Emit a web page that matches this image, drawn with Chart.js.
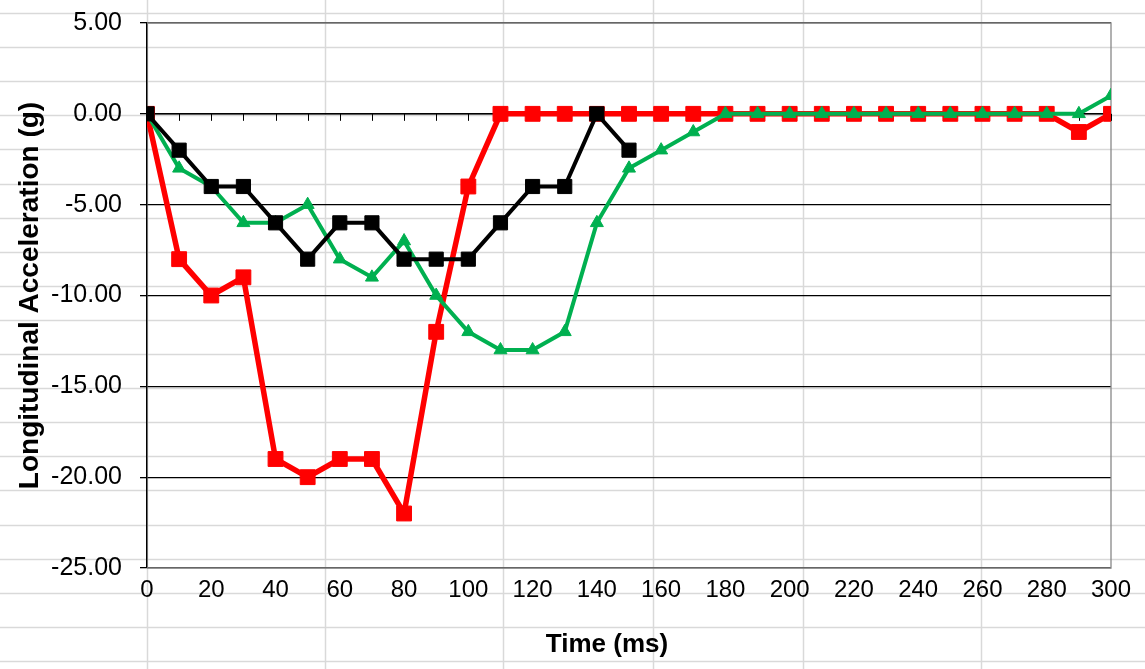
<!DOCTYPE html>
<html>
<head>
<meta charset="utf-8">
<script src="https://cdn.jsdelivr.net/npm/chart.js@4/dist/chart.umd.min.js"></script>
<style>
  html, body { margin: 0; padding: 0; background: #fff; }
  #wrap { width: 1145px; height: 669px; }
</style>
</head>
<body>
<div id="wrap"><canvas id="accel-chart" width="1145" height="669"></canvas></div>
<script>
// time in ms
const times = [0, 10, 20, 30, 40, 50, 60, 70, 80, 90, 100, 110, 120, 130, 140, 150, 160, 170, 180, 190, 200, 210, 220, 230, 240, 250, 260, 270, 280, 290, 300];
// longitudinal acceleration (g)
const redSeries = [0, -8, -10, -9, -19, -20, -19, -19, -22, -12, -4, 0, 0, 0, 0, 0, 0, 0, 0, 0, 0, 0, 0, 0, 0, 0, 0, 0, 0, -1, 0];
const greenSeries = [0, -3, -4, -6, -6, -5, -8, -9, -7, -10, -12, -13, -13, -12, -6, -3, -2, -1, 0, 0, 0, 0, 0, 0, 0, 0, 0, 0, 0, 0, 1];
const blackSeries = [0, -2, -4, -4, -6, -8, -6, -6, -8, -8, -8, -6, -4, -4, 0, -2];
const yTicks = [5, 0, -5, -10, -15, -20, -25];

const toPoints = (vals) => vals.map((v, i) => ({ x: times[i], y: v }));
const FONT = "'Liberation Sans', Arial, sans-serif";

// spreadsheet cell lines behind the chart
const sheetColumns = [147, 325, 503, 653, 803, 981];
const sheetGrid = {
  id: "sheetGrid",
  beforeDraw(chart) {
    const ctx = chart.ctx;
    ctx.save();
    ctx.strokeStyle = "#d9d9d9";
    ctx.lineWidth = 1.5;
    for (let y = 13; y < chart.height; y += 34.1) {
      ctx.beginPath();
      ctx.moveTo(0, Math.round(y) + 0.5);
      ctx.lineTo(chart.width, Math.round(y) + 0.5);
      ctx.stroke();
    }
    sheetColumns.forEach((x) => {
      ctx.beginPath();
      ctx.moveTo(x + 0.5, 0);
      ctx.lineTo(x + 0.5, chart.height);
      ctx.stroke();
    });
    ctx.restore();
  },
  beforeDatasetsDraw(chart) {
    const ctx = chart.ctx;
    const { left, right, top, bottom } = chart.chartArea;
    const xs = chart.scales.x;
    const y0 = chart.scales.y.getPixelForValue(0);
    ctx.save();
    // plot border
    ctx.strokeStyle = "#888";
    ctx.lineWidth = 1.3;
    ctx.beginPath();
    ctx.moveTo(left, top);
    ctx.lineTo(right, top);
    ctx.lineTo(right, bottom);
    ctx.lineTo(left, bottom);
    ctx.stroke();
    // horizontal axis crossing at 0 with minor ticks
    ctx.strokeStyle = "#000";
    ctx.lineWidth = 1.3;
    ctx.beginPath();
    ctx.moveTo(left, y0);
    ctx.lineTo(right, y0);
    ctx.stroke();
    ctx.lineWidth = 1;
    for (let t = 0; t <= 300; t += 10) {
      const px = Math.round(xs.getPixelForValue(t)) + 0.5;
      ctx.beginPath();
      ctx.moveTo(px, y0);
      ctx.lineTo(px, y0 + 7);
      ctx.stroke();
    }
    ctx.restore();
  },
  afterDraw(chart) {
    const ctx = chart.ctx;
    ctx.save();
    ctx.fillStyle = "#000";
    ctx.font = "bold 26px " + FONT;
    ctx.textAlign = "center";
    ctx.textBaseline = "middle";
    ctx.fillText("Time (ms)", 607, 645);
    ctx.restore();
  },
};

const ctx = document.getElementById("accel-chart").getContext("2d");
window._chart = new Chart(ctx, {
  type: "line",
  data: {
    datasets: [
      {
        label: "Red",
        data: toPoints(redSeries),
        borderColor: "#ff0000",
        backgroundColor: "#ff0000",
        borderWidth: 5.5,
        pointStyle: "rect",
        pointRadius: 10.5,
        pointBorderWidth: 1,
        order: 2,
      },
      {
        label: "Green",
        data: toPoints(greenSeries),
        borderColor: "#00b050",
        backgroundColor: "#00b050",
        borderWidth: 4,
        pointStyle: "triangle",
        pointRadius: 7.5,
        pointBorderWidth: 1,
        order: 1,
      },
      {
        label: "Black",
        data: toPoints(blackSeries),
        borderColor: "#000000",
        backgroundColor: "#000000",
        borderWidth: 4,
        pointStyle: "rect",
        pointRadius: 10,
        pointBorderWidth: 1,
        order: 0,
      },
    ],
  },
  options: {
    responsive: false,
    animation: false,
    layout: { padding: { top: 23, right: 34, left: 0, bottom: 0 } },
    plugins: {
      legend: { display: false },
      tooltip: { enabled: false },
    },
    scales: {
      x: {
        type: "linear",
        min: 0,
        max: 300,
        grid: { display: false, drawTicks: false },
        border: { display: false },
        ticks: {
          stepSize: 20,
          padding: 8,
          color: "#000",
          maxRotation: 0,
          font: { family: FONT, size: 24 },
        },
        afterFit: (scale) => {
          scale.height = 101;
          scale.paddingLeft = 0;
          scale.paddingRight = 0;
        },
      },
      y: {
        min: -25,
        max: 5,
        afterBuildTicks: (scale) => { scale.ticks = yTicks.map((v) => ({ value: v })); },
        grid: { color: "#000", lineWidth: 1.3, tickLength: 7, tickColor: "#000" },
        border: { color: "#000", width: 1.5 },
        ticks: {
          padding: 18,
          color: "#000",
          font: { family: FONT, size: 25 },
          callback: (v) => Number(v).toFixed(2),
        },
        title: {
          display: true,
          text: "Longitudinal Acceleration (g)",
          color: "#000",
          padding: { top: 13, bottom: 0 },
          font: { family: FONT, size: 28, weight: "bold" },
        },
        afterFit: (scale) => {
          scale.width = 147;
          scale.paddingTop = 0;
          scale.paddingBottom = 0;
        },
      },
    },
  },
  plugins: [sheetGrid],
});
</script>
</body>
</html>
